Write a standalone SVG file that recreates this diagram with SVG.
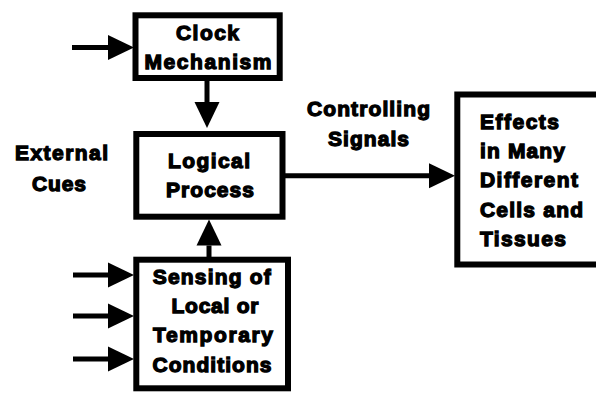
<svg xmlns="http://www.w3.org/2000/svg" width="596" height="393" viewBox="0 0 596 393">
  <defs>
    <style>
      .box { fill: #ffffff; stroke: #000000; stroke-width: 6; }
      .wire { fill: none; stroke: #000000; stroke-width: 5; }
      .t { font-family: "Liberation Sans", Arial, sans-serif; font-weight: bold; font-size: 21px; fill: #000000; stroke: #000000; stroke-width: 1.3; paint-order: stroke; }
      .c { text-anchor: middle; }
      .l { text-anchor: start; }
    </style>
    <marker id="ah" markerUnits="userSpaceOnUse" markerWidth="26" markerHeight="26" refX="0" refY="12.5" orient="auto" viewBox="0 0 26 25" overflow="visible">
      <path d="M0,0 L26,12.5 L0,25 Z" fill="#000000"/>
    </marker>
  </defs>
  <rect width="596" height="393" fill="#ffffff"/>

  <g id="connectors">
    <line class="wire" x1="72" y1="47.5" x2="108" y2="47.5" marker-end="url(#ah)"/>
    <line class="wire" x1="207" y1="80" x2="207" y2="102" marker-end="url(#ah)"/>
    <line class="wire" x1="209" y1="259" x2="209" y2="245.5" marker-end="url(#ah)"/>
    <line class="wire" x1="284" y1="175.7" x2="429" y2="175.7" marker-end="url(#ah)"/>
    <line class="wire" x1="73" y1="275" x2="108" y2="275" marker-end="url(#ah)"/>
    <line class="wire" x1="73" y1="316" x2="108" y2="316" marker-end="url(#ah)"/>
    <line class="wire" x1="73" y1="359" x2="108" y2="359" marker-end="url(#ah)"/>
  </g>

  <g id="external-cues">
    <text class="t c" x="61.5" y="160" textLength="93" lengthAdjust="spacing">External</text>
    <text class="t c" x="59" y="191" textLength="54" lengthAdjust="spacing">Cues</text>
  </g>

  <g id="controlling-signals">
    <text class="t c" x="368.5" y="116" textLength="123" lengthAdjust="spacing">Controlling</text>
    <text class="t c" x="368.5" y="145.5" textLength="81" lengthAdjust="spacing">Signals</text>
  </g>

  <g id="clock">
    <rect class="box" x="135.5" y="15.3" width="144.2" height="62.7"/>
    <text class="t c" x="207.5" y="40" textLength="63" lengthAdjust="spacing">Clock</text>
    <text class="t c" x="208" y="69" textLength="127" lengthAdjust="spacing">Mechanism</text>
  </g>

  <g id="logical">
    <rect class="box" x="136.3" y="134" width="146.2" height="82.7"/>
    <text class="t c" x="209" y="168" textLength="82" lengthAdjust="spacing">Logical</text>
    <text class="t c" x="210" y="197" textLength="88" lengthAdjust="spacing">Process</text>
  </g>

  <g id="sensing">
    <rect class="box" x="136.3" y="259.7" width="151.7" height="128.6"/>
    <text class="t c" x="211.7" y="284" textLength="118" lengthAdjust="spacing">Sensing of</text>
    <text class="t c" x="215" y="313" textLength="87" lengthAdjust="spacing">Local or</text>
    <text class="t c" x="213" y="342" textLength="120" lengthAdjust="spacing">Temporary</text>
    <text class="t c" x="212" y="371.5" textLength="119" lengthAdjust="spacing">Conditions</text>
  </g>

  <g id="effects">
    <rect class="box" x="457.3" y="94.5" width="160" height="170"/>
    <text class="t l" x="480" y="129" textLength="79" lengthAdjust="spacing">Effects</text>
    <text class="t l" x="480" y="158" textLength="85" lengthAdjust="spacing">in Many</text>
    <text class="t l" x="480" y="187" textLength="98" lengthAdjust="spacing">Different</text>
    <text class="t l" x="480" y="217" textLength="103" lengthAdjust="spacing">Cells and</text>
    <text class="t l" x="480" y="246" textLength="86" lengthAdjust="spacing">Tissues</text>
  </g>
</svg>
